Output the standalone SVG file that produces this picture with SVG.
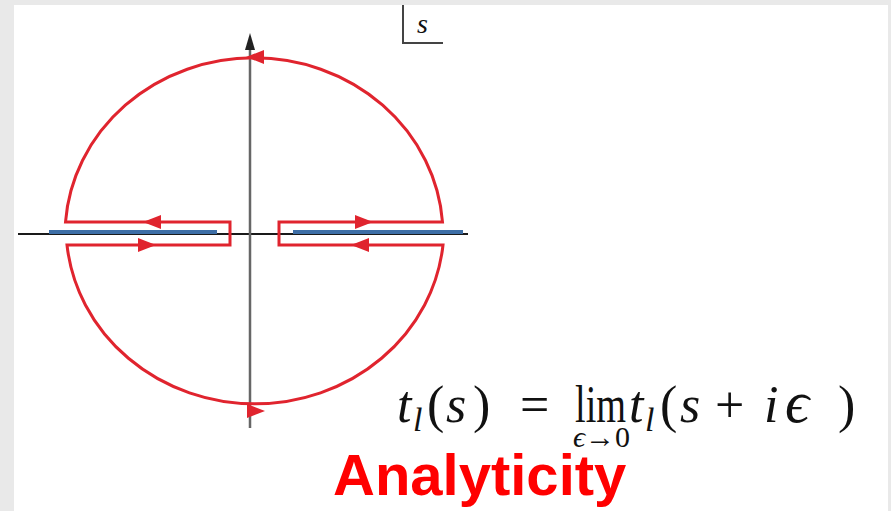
<svg xmlns="http://www.w3.org/2000/svg" width="891" height="511" viewBox="0 0 891 511">
<style>
.contour{fill:none;stroke:#e0242e;stroke-width:3;stroke-linejoin:miter}
.arr{fill:#e0242e}
.cut{stroke:#3d6ea6;stroke-width:4}
.math{font-family:"Liberation Serif","DejaVu Serif",serif;fill:#111}
.it{font-style:italic}
</style>
<rect x="0" y="0" width="891" height="511" fill="#e9e9e9"/>
<rect x="14" y="5" width="874" height="506" fill="#ffffff"/>
<g id="axes">
<line x1="18" y1="234" x2="468" y2="234" stroke="#1a1a1a" stroke-width="2"/>
<line x1="250" y1="46" x2="250" y2="428" stroke="#666" stroke-width="2.5"/>
<polygon points="250,33 245,50 255,50" fill="#222"/>
</g>
<g id="cuts">
<line class="cut" x1="49" y1="232" x2="217" y2="232"/>
<line class="cut" x1="293" y1="232" x2="463" y2="232"/>
</g>
<g id="contour">
<path class="contour" d="M442.5 222 A189 177 0 0 0 65.5 222 L230 222 L230 245 L67 245 A189 177 0 0 0 443 245 L279 245 L279 222 Z"/>
<polygon class="arr" points="246,57 264,50 264,64"/>
<polygon class="arr" points="265,411 247,404 247,418"/>
<polygon class="arr" points="143,222 161,215 161,229"/>
<polygon class="arr" points="156,245 138,238 138,252"/>
<polygon class="arr" points="373,222 355,215 355,229"/>
<polygon class="arr" points="351,245 369,238 369,252"/>
</g>
<g id="s-label">
<polyline points="403,5 403,43 443,43" fill="none" stroke="#444" stroke-width="2"/>
<text class="math it" x="417" y="33" font-size="28">s</text>
</g>
<g id="equation" class="math" font-size="52">
<text class="it" x="397" y="422">t</text>
<text class="it" x="413" y="431" font-size="34">l</text>
<text x="427" y="422">(</text>
<text class="it" x="446" y="422">s</text>
<text x="473" y="422">)</text>
<text x="520" y="422">=</text>
<text x="575" y="422" textLength="51" lengthAdjust="spacingAndGlyphs">lim</text>
<text class="it" x="629" y="422">t</text>
<text class="it" x="645" y="431" font-size="34">l</text>
<text x="660" y="422">(</text>
<text class="it" x="680" y="422">s</text>
<text x="715" y="422">+</text>
<text class="it" x="764" y="422">i</text>
<text class="it" x="785" y="422" font-size="60">ϵ</text>
<text x="838" y="422">)</text>
<text x="573" y="447" font-size="30"><tspan font-style="italic">ϵ</tspan>→0</text>
</g>
<g id="title">
<text x="333" y="495" font-family="Liberation Sans, Arial, sans-serif" font-weight="bold" font-size="58" fill="#ff0000">Analyticity</text>
</g>
</svg>
